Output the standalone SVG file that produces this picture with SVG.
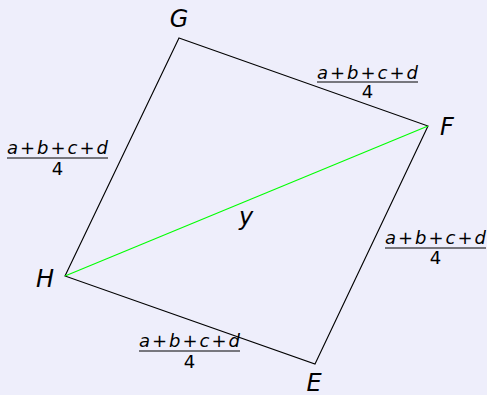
<svg xmlns="http://www.w3.org/2000/svg" width="487" height="395" viewBox="0 0 487 395">
<style>
.lbl{font-family:"DejaVu Sans",sans-serif;font-style:italic;font-size:24px;fill:#000}
.num{font-family:"DejaVu Sans",sans-serif;font-size:18px;fill:#000}
.num .v{font-style:italic}
.den{font-family:"DejaVu Sans",sans-serif;font-size:18px;fill:#000;text-anchor:middle}
.bar{stroke:#000;stroke-width:1}
.edge{stroke:#000;stroke-width:1.1;fill:none}
</style>
<rect width="487" height="395" fill="#EEEEFB"/>
<g id="connectors">
<polygon class="edge" points="179,38 428,126 315,364 65,276"/>
<line x1="65" y1="276" x2="428" y2="126" stroke="#00FF00" stroke-width="1.1"/>
</g>
<g id="G"><text class="lbl" x="179" y="27" text-anchor="middle">G</text></g>
<g id="F"><text class="lbl" x="447" y="135" text-anchor="middle">F</text></g>
<g id="E"><text class="lbl" x="314" y="391" text-anchor="middle">E</text></g>
<g id="H"><text class="lbl" x="45" y="287" text-anchor="middle">H</text></g>
<g id="y"><text class="lbl" x="246" y="225" text-anchor="middle">y</text></g>
<g id="label-GH">
<text class="num" x="7" y="154" textLength="101" lengthAdjust="spacing"><tspan class="v">a</tspan>+<tspan class="v">b</tspan>+<tspan class="v">c</tspan>+<tspan class="v">d</tspan></text>
<line class="bar" x1="7" y1="158" x2="108" y2="158"/>
<text class="den" x="57.5" y="175">4</text>
</g>
<g id="label-GF">
<text class="num" x="317" y="79" textLength="101" lengthAdjust="spacing"><tspan class="v">a</tspan>+<tspan class="v">b</tspan>+<tspan class="v">c</tspan>+<tspan class="v">d</tspan></text>
<line class="bar" x1="317" y1="82" x2="418" y2="82"/>
<text class="den" x="367.5" y="98">4</text>
</g>
<g id="label-FE">
<text class="num" x="385" y="244" textLength="101" lengthAdjust="spacing"><tspan class="v">a</tspan>+<tspan class="v">b</tspan>+<tspan class="v">c</tspan>+<tspan class="v">d</tspan></text>
<line class="bar" x1="385" y1="248" x2="486" y2="248"/>
<text class="den" x="435.5" y="264">4</text>
</g>
<g id="label-HE">
<text class="num" x="139" y="347" textLength="101" lengthAdjust="spacing"><tspan class="v">a</tspan>+<tspan class="v">b</tspan>+<tspan class="v">c</tspan>+<tspan class="v">d</tspan></text>
<line class="bar" x1="139" y1="351" x2="240" y2="351"/>
<text class="den" x="189.5" y="368">4</text>
</g>
</svg>
